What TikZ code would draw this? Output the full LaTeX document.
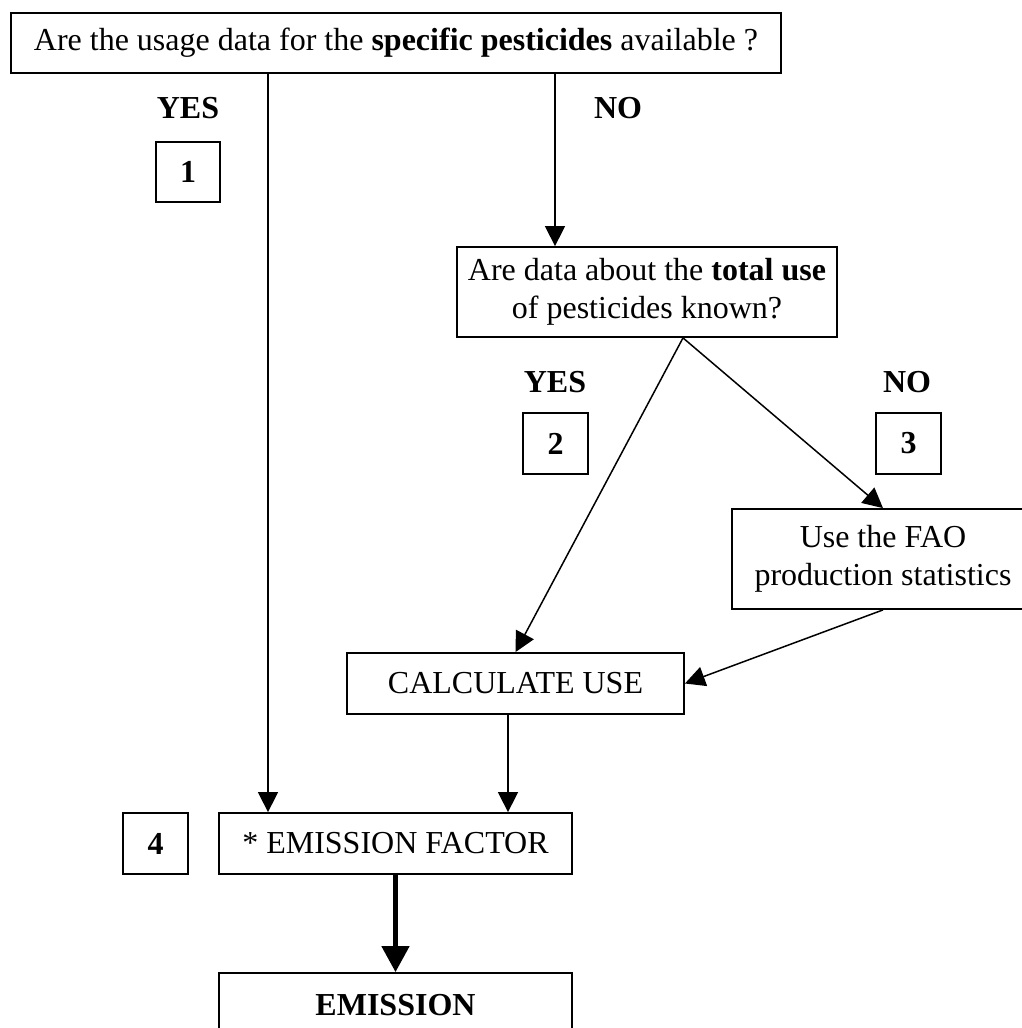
\documentclass[tikz,border=0pt]{standalone}
\usepackage{fontspec}
\setmainfont{Liberation Serif}
\usetikzlibrary{arrows.meta}
\begin{document}
\begin{tikzpicture}[x=1pt,y=-1pt,
  every node/.style={font=\fontsize{32}{38}\selectfont},
  box/.style={draw, line width=1.8pt, inner sep=0pt, align=center},
  lbl/.style={font=\fontsize{32}{38}\selectfont\bfseries},
  conn/.style={line width=1.5pt, -{Triangle[length=20pt,width=20pt]}},
  thick conn/.style={line width=4.7pt, -{Triangle[length=26pt,width=27pt]}}]
\useasboundingbox (0,0) rectangle (1022,1028);
% nodes
\node[box, minimum width=770pt, minimum height=60pt] (q1) at (396,43)
  {Are the usage data for the \textbf{specific pesticides} available ?};
\node[lbl] (yes1) at (188,108) {YES};
\node[lbl] (no1) at (618,108) {NO};
\node[box, lbl, minimum width=64pt, minimum height=60pt] (n1) at (188,172) {1};
\node[box, minimum width=380pt, minimum height=90pt] (q2) at (647,292)
  {Are data about the \textbf{total use}\\of pesticides known?};
\node[lbl] (yes2) at (555,382) {YES};
\node[lbl] (no2) at (907,382) {NO};
\node[box, lbl, minimum width=65pt, minimum height=61pt] (n2) at (555.5,443.5) {2};
\node[box, lbl, minimum width=65pt, minimum height=61pt] (n3) at (908.5,443.5) {3};
\node[box, minimum width=302pt, minimum height=100pt] (fao) at (883,559)
  {Use the FAO\\production statistics};
\node[box, minimum width=337pt, minimum height=61pt] (calc) at (515.5,683.5) {CALCULATE USE};
\node[box, minimum width=353pt, minimum height=61pt] (ef) at (395.5,843.5) {* EMISSION FACTOR};
\node[box, lbl, minimum width=65pt, minimum height=61pt] (n4) at (155.5,843.5) {4};
\node[box, minimum width=353pt, minimum height=64pt] (em) at (395.5,1005) {\textbf{EMISSION}};
% connector x positions
\coordinate (xl) at (268,0);
\coordinate (xr) at (555,0);
\coordinate (xq) at (683,0);
\coordinate (xc) at (508,0);
% connectors
\draw[conn] (q1.south -| xl) -- (ef.north -| xl);
\draw[conn] (q1.south -| xr) -- (q2.north -| xr);
\draw[conn] (q2.south -| xq) -- (calc.north);
\draw[conn] (q2.south -| xq) -- (fao.north);
\draw[conn] (fao.south) -- (calc.east);
\draw[conn] (calc.south -| xc) -- (ef.north -| xc);
\draw[thick conn] (ef.south) -- (em.north);
\end{tikzpicture}
\end{document}
